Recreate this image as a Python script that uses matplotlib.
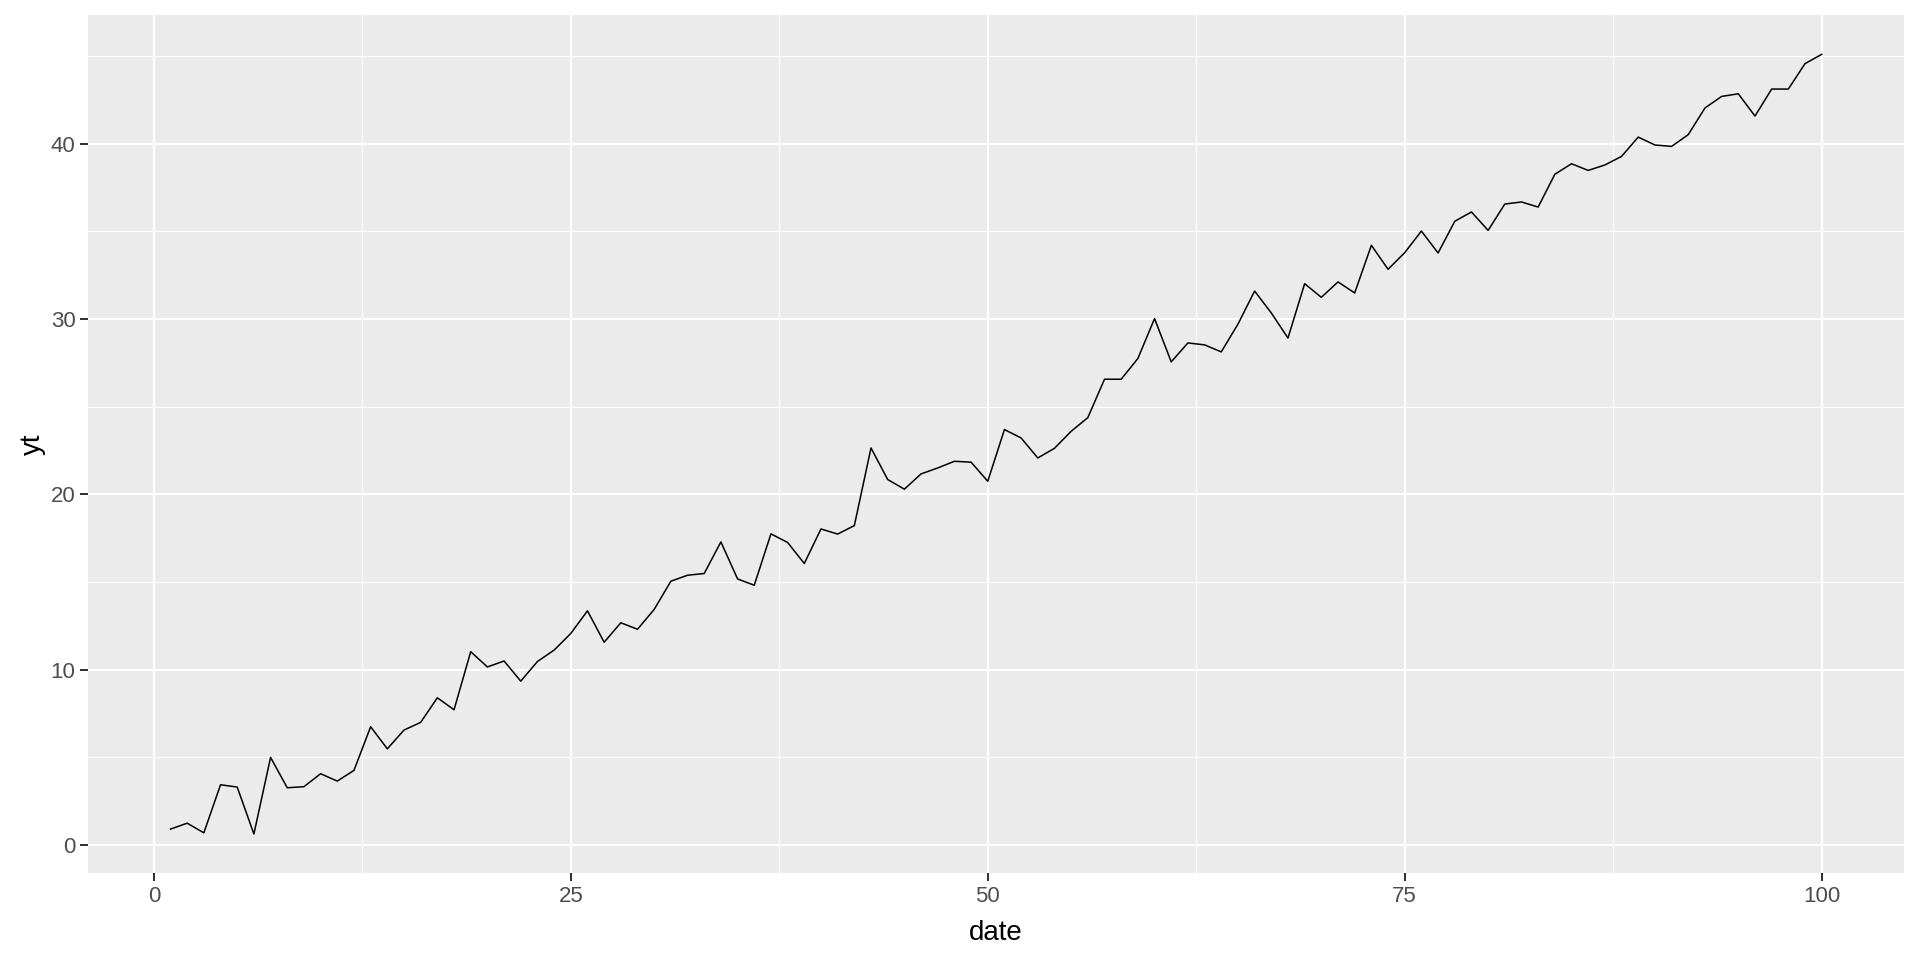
import numpy as np
import matplotlib
matplotlib.use("Agg")
import matplotlib.pyplot as plt
from matplotlib.ticker import MultipleLocator

# serie
date = np.arange(1, 101)
yt = [0.91, 1.25, 0.70, 3.44, 3.31, 0.63, 5.00, 3.27, 3.33, 4.07,
      3.65, 4.26, 6.75, 5.49, 6.56, 7.00, 8.40, 7.72, 11.03, 10.16,
      10.50, 9.35, 10.47, 11.12, 12.07, 13.36, 11.57, 12.68, 12.31, 13.44,
      15.05, 15.39, 15.49, 17.29, 15.18, 14.82, 17.75, 17.26, 16.06, 18.03,
      17.74, 18.22, 22.65, 20.85, 20.30, 21.17, 21.51, 21.89, 21.84, 20.75,
      23.70, 23.22, 22.08, 22.63, 23.60, 24.38, 26.57, 26.57, 27.75, 30.03,
      27.56, 28.64, 28.53, 28.13, 29.71, 31.60, 30.35, 28.92, 32.02, 31.24,
      32.12, 31.49, 34.21, 32.84, 33.79, 35.02, 33.77, 35.58, 36.11, 35.06,
      36.56, 36.68, 36.39, 38.26, 38.86, 38.48, 38.79, 39.28, 40.38, 39.93,
      39.85, 40.52, 42.04, 42.70, 42.85, 41.58, 43.12, 43.12, 44.57, 45.10]

plt.rcParams['font.family'] = ['Liberation Sans', 'DejaVu Sans']

fig = plt.figure(figsize=(19.2, 9.6), dpi=100)
ax = fig.add_axes([0.0458, 0.0906, 0.946, 0.8934])
ax.set_facecolor("#EBEBEB")

ax.plot(date, yt, color="black", linewidth=1.1, zorder=3)

# limites con la expansion de ggplot (5%)
xr = date.max() - date.min()
yr = max(yt) - min(yt)
ax.set_xlim(date.min() - 0.05 * xr, date.max() + 0.05 * xr)
ax.set_ylim(min(yt) - 0.05 * yr, max(yt) + 0.05 * yr)

ax.xaxis.set_major_locator(MultipleLocator(25))
ax.xaxis.set_minor_locator(MultipleLocator(12.5))
ax.yaxis.set_major_locator(MultipleLocator(10))
ax.yaxis.set_minor_locator(MultipleLocator(5))

ax.grid(which="major", color="white", linewidth=1.45, zorder=1)
ax.grid(which="minor", color="white", linewidth=0.72, zorder=1)
ax.set_axisbelow(True)

for s in ax.spines.values():
    s.set_visible(False)

ax.tick_params(which="major", length=5.5, width=1.45, color="#333333",
               labelcolor="#4D4D4D", labelsize=16, pad=3.5)
ax.tick_params(which="minor", length=0)

ax.set_xlabel("date", fontsize=20, color="black", labelpad=10)
ax.set_ylabel("yt", fontsize=20, color="black", labelpad=3)

fig.savefig("out.png", dpi=100, facecolor="white")
